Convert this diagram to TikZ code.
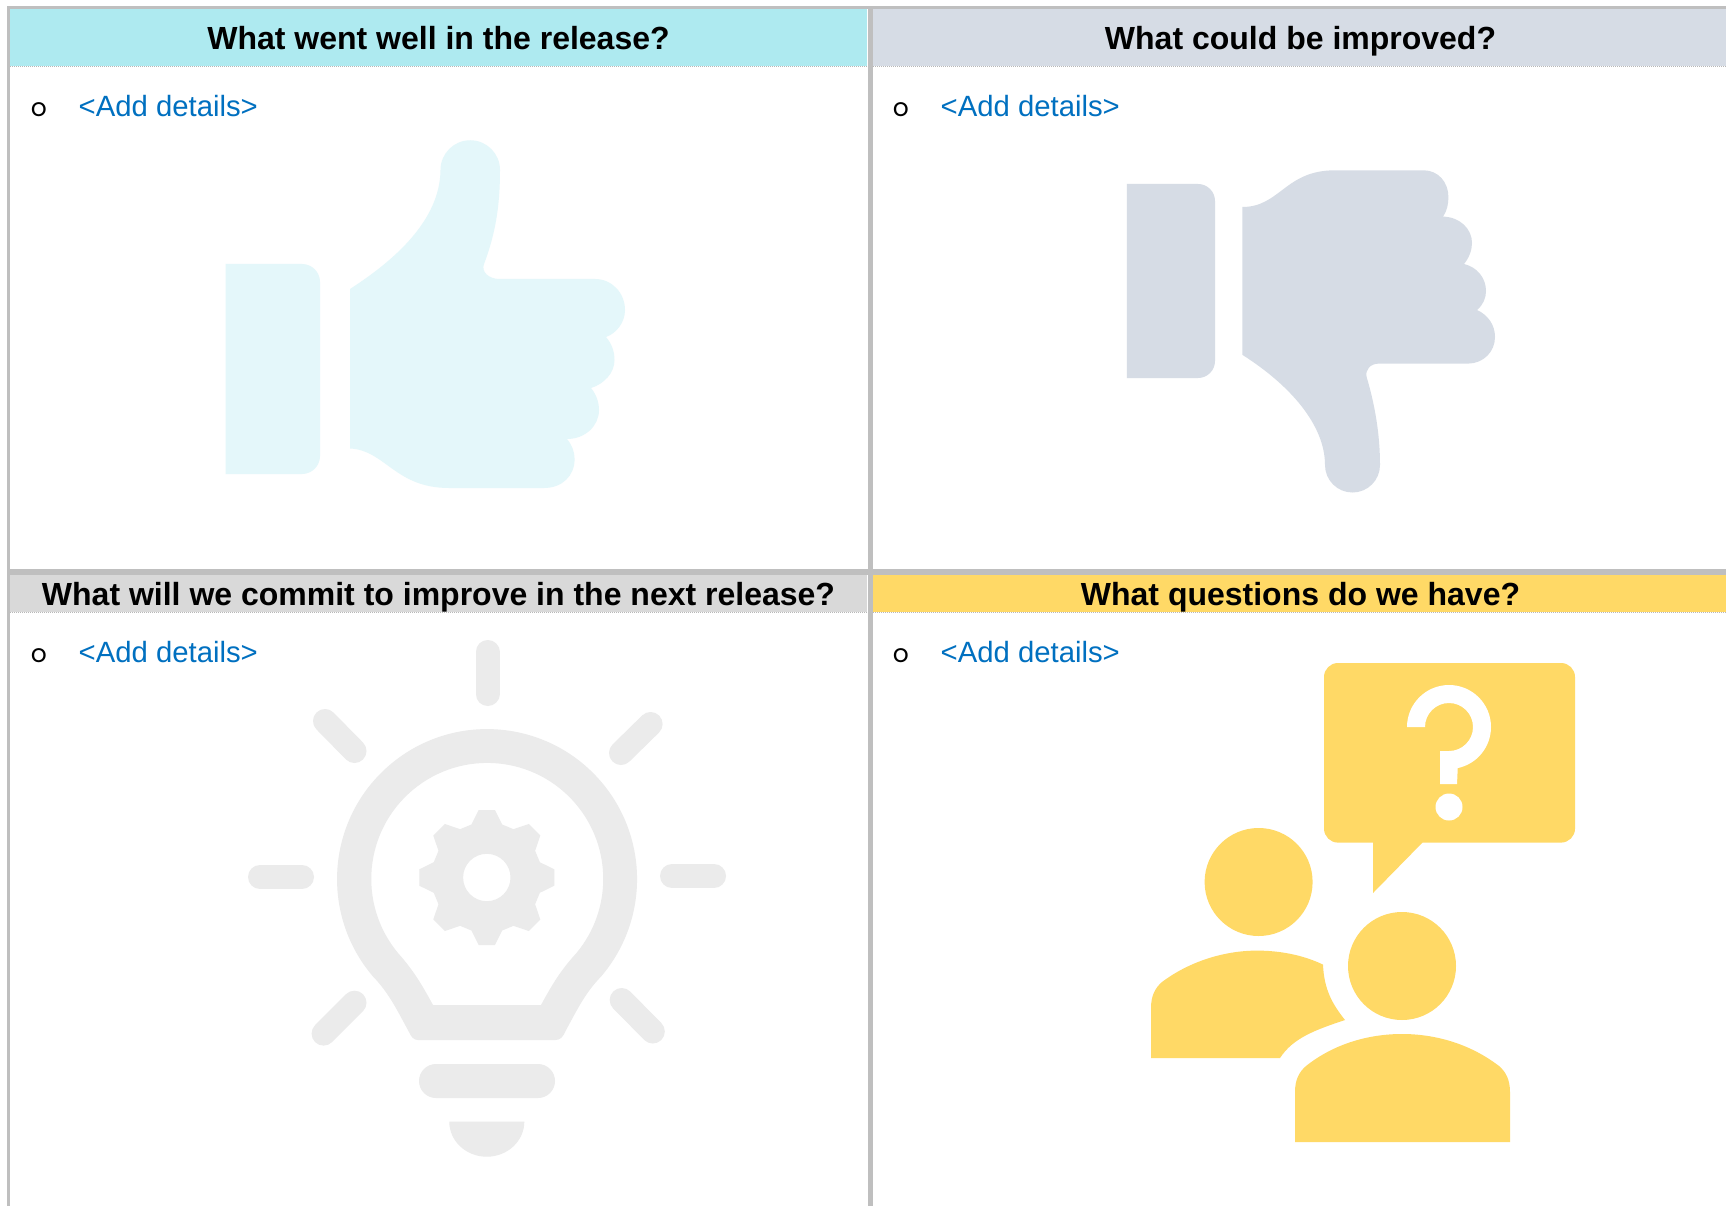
\documentclass[tikz,border=0pt]{standalone}
\usepackage{fontspec}
\setmainfont{Liberation Sans}
\newfontfamily\bulletfont{Poppins}
\definecolor{rule}{HTML}{BFBFBF}
\definecolor{headblue}{HTML}{AEEAF0}
\definecolor{headslate}{HTML}{D6DCE5}
\definecolor{headgrey}{HTML}{D9D9D9}
\definecolor{headgold}{HTML}{FFD966}
\definecolor{paleblue}{HTML}{E4F7FA}
\definecolor{palegrey}{HTML}{EBEBEB}
\definecolor{linkblue}{HTML}{0070C0}
\tikzset{
  titletext/.style={anchor=base,inner sep=0pt,font=\bfseries\fontsize{32}{36}\selectfont,text=black},
  detailtext/.style={anchor=base west,inner sep=0pt,font=\fontsize{29.3}{34}\selectfont,text=linkblue},
  bullettext/.style={anchor=base west,inner sep=0pt,font=\bulletfont\fontsize{25}{30}\selectfont,text=black},
  gridrule/.style={fill=rule},
  dotrule/.style={draw=black!28,line width=1.2pt,dash pattern=on 1pt off 1pt},
  ray/.style={draw=palegrey,line width=24pt,line cap=round}
}
\begin{document}
\begin{tikzpicture}[x=1pt,y=-1pt]
\useasboundingbox (0,0) rectangle (1726,1206);
\fill[white] (0,0) rectangle (1726,1206);
% headers
\fill[headblue] (10,9) rectangle (867,66);
\fill[headslate] (873,9) rectangle (1726,66);
\fill[headgrey] (10,575) rectangle (867,612);
\fill[headgold] (873,575) rectangle (1726,612);
\draw[dotrule] (10,66.6) -- (867,66.6);
\draw[dotrule] (873,66.6) -- (1726,66.6);
\draw[dotrule] (10,612.6) -- (867,612.6);
\draw[dotrule] (873,612.6) -- (1726,612.6);
% grid
\fill[gridrule] (7,6) rectangle (1726,9);
\fill[gridrule] (7,6) rectangle (10,1206);
\fill[gridrule] (867.5,6) rectangle (873,1206);
\fill[gridrule] (7,569) rectangle (1726,575);
% titles
\node[titletext] (t1) at (438.5,50) {What went well in the release?};
\node[titletext] (t2) at (1300.5,50) {What could be improved?};
\node[titletext] (t3) at (438.5,605) {What will we commit to improve in the next release?};
\node[titletext] (t4) at (1300.5,605) {What questions do we have?};
% details
\node[bullettext] (b1) at (30.7,116.2) {o};
\node[detailtext] (d1) at (78.5,117) {<Add details>};
\node[bullettext] (b2) at (892.7,116.2) {o};
\node[detailtext] (d2) at (940.5,117) {<Add details>};
\node[bullettext] (b3) at (30.7,662.2) {o};
\node[detailtext] (d3) at (78.5,662) {<Add details>};
\node[bullettext] (b4) at (892.7,662.2) {o};
\node[detailtext] (d4) at (940.5,662) {<Add details>};
% thumb up
\fill[paleblue] (225.6,264) -- (302,264) arc[start angle=90,end angle=0,radius=18pt] -- (320,456) arc[start angle=0,end angle=-90,radius=18pt] -- (225.6,474) -- cycle;
\fill[paleblue] (350,289) .. controls (395,260) and (440,220) .. (440.5,170)
  arc[start angle=180,end angle=0,radius=29.75pt]
  .. controls (500,200) and (497,230) .. (484,264)
  .. controls (481,272) and (489,279) .. (499.5,279)
  -- (595,279)
  .. controls (612,279) and (625,293) .. (625,310)
  .. controls (625,322) and (617,333) .. (606,337)
  .. controls (612,344) and (614.5,352) .. (614.5,360)
  .. controls (614.5,373) and (604,384) .. (591,388)
  .. controls (596,394) and (599,402) .. (599,410)
  .. controls (599,426) and (585,439) .. (567,439)
  .. controls (572,445) and (574.6,452) .. (574.6,459)
  .. controls (574.6,476) and (562,488) .. (544,488)
  -- (449,488)
  .. controls (395,488) and (385,450) .. (350,448.5) -- cycle;
% thumb down
\fill[headslate] (1126.9,184) -- (1198,184) arc[start angle=90,end angle=0,radius=17pt] -- (1215,361) arc[start angle=0,end angle=-90,radius=17pt] -- (1126.9,378) -- cycle;
\fill[headslate] (1242.3,207) .. controls (1280,207) and (1285,170.3) .. (1335,170.3)
  -- (1423.5,170.3)
  .. controls (1438,170.3) and (1448.4,182) .. (1448.4,197)
  .. controls (1448.4,204) and (1447,211) .. (1443,216.6)
  .. controls (1460,217) and (1472,229) .. (1472,243)
  .. controls (1472,250) and (1469,258) .. (1464,264)
  .. controls (1477,267) and (1486,278) .. (1486,291)
  .. controls (1486,298) and (1483,305) .. (1477,310)
  .. controls (1488,315) and (1495,325) .. (1495,337)
  .. controls (1495,352) and (1483,363.6) .. (1468,363.6)
  -- (1379,363.6)
  .. controls (1370,363.6) and (1365,370) .. (1366.6,377)
  .. controls (1375,405) and (1380,435) .. (1380,465)
  arc[start angle=0,end angle=-180,radius=27.5pt]
  .. controls (1325,425) and (1290,385) .. (1242.3,354.8) -- cycle;
% bulb
\fill[palegrey,even odd rule] (373,976.5) arc[start angle=220.5,end angle=-40.5,radius=150pt]
  .. controls (585,993) and (577,1010) .. (565,1032)
  .. controls (563,1037) and (560,1040) .. (555.5,1040)
  -- (418,1040)
  .. controls (414,1040) and (411,1037) .. (409,1032)
  .. controls (397,1010) and (389,993) .. (373,976.5) -- cycle
  (398,953) arc[start angle=219.7,end angle=-39.7,radius=116pt]
  .. controls (560,971) and (552,985) .. (541,1005)
  -- (433,1005)
  .. controls (422,985) and (414,971) .. (398,953) -- cycle;
% gear
\fill[palegrey,even odd rule,shift={(486.8,877.5)}]
  (73.9:55.2pt) \foreach \a in {0,45,...,315} {
    -- (\a+73.9:55.2pt) -- (\a+83.1:68pt) -- (\a+96.9:68pt) -- (\a+106.1:55.2pt)
  } -- cycle
  (0,0) circle[radius=23.7pt];
% rays
\draw[ray] (487.5,652) -- (487.5,694);
\draw[ray] (672,876) -- (714,876);
\draw[ray] (260,877) -- (302,877);
\draw[ray] (325,721) -- (354.5,751);
\draw[ray] (650.6,724) -- (621,753);
\draw[ray] (354.5,1002.7) -- (323.6,1033.6);
\draw[ray] (621.7,1000) -- (652.8,1031.5);
% base and cap
\fill[palegrey,rounded corners=17pt] (419,1064) rectangle (555,1098);
\fill[palegrey] (449.3,1121.7) -- (524.3,1121.7) arc[start angle=0,end angle=-180,x radius=37.5pt,y radius=35pt] -- cycle;
% speech bubble
\fill[headgold] (1338,663) -- (1561,663) arc[start angle=90,end angle=0,radius=14pt]
  -- (1575,828.6) arc[start angle=0,end angle=-90,radius=14pt]
  -- (1422.4,842.6) -- (1373,893) -- (1373,842.6) -- (1338,842.6)
  arc[start angle=-90,end angle=-180,radius=14pt]
  -- (1324,677) arc[start angle=180,end angle=90,radius=14pt] -- cycle;
\fill[white] (1407,727) arc[start angle=180,end angle=-78,radius=42pt]
  -- (1457,784) -- (1440,784) -- (1440,751) -- (1449,751)
  arc[start angle=-90,end angle=180,radius=24pt] -- cycle;
\fill[white] (1449,807) circle[radius=13.5pt];
% people
\fill[headgold] (1258.6,882) circle[radius=54pt];
\fill[headgold] (1402,966) circle[radius=54pt];
\fill[headgold] (1295,1142) -- (1295,1092)
  .. controls (1295,1080) and (1299,1072) .. (1306,1066)
  .. controls (1335,1043) and (1370,1034) .. (1402,1034)
  .. controls (1434,1034) and (1469,1043) .. (1499,1066)
  .. controls (1506,1072) and (1510,1080) .. (1510,1092)
  -- (1510,1142) -- cycle;
\fill[headgold] (1151,1058) -- (1151,1008)
  .. controls (1151,996) and (1155,988) .. (1162,982)
  .. controls (1190,961) and (1225,950.6) .. (1257,950.6)
  .. controls (1280,950.6) and (1303,955) .. (1323,964.6)
  .. controls (1324,990) and (1333,1005) .. (1345,1020)
  .. controls (1315,1030) and (1293,1038) .. (1280,1058) -- cycle;
\end{tikzpicture}
\end{document}
